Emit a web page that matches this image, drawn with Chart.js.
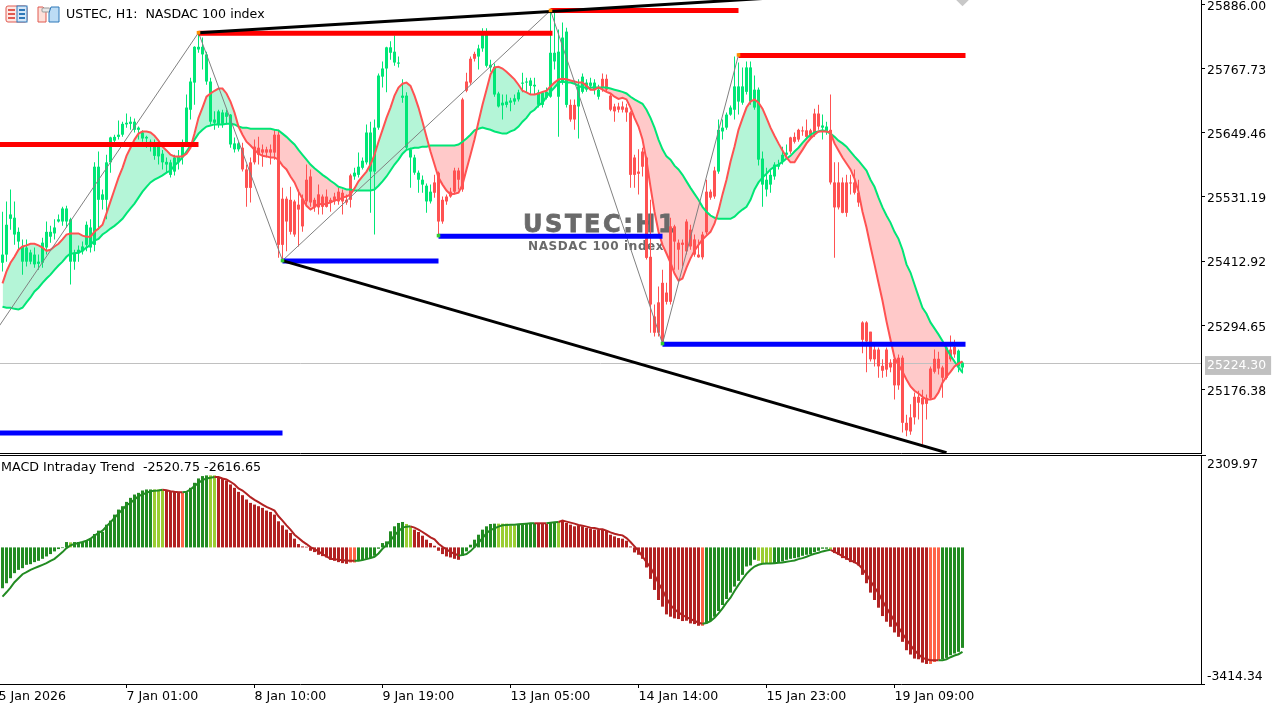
<!DOCTYPE html>
<html><head><meta charset="utf-8">
<script src="https://cdn.jsdelivr.net/npm/chart.js@4"></script>
<style>
html,body{margin:0;padding:0;background:#fff;width:1285px;height:706px;overflow:hidden}
canvas{position:absolute;left:0}
#main{top:0}#macd{top:455px}
#sep{position:absolute;left:0;top:455px;width:1206px;height:1px;background:#000}
#icons{position:absolute;left:5px;top:5px}
</style></head><body>
<canvas id="main" width="1285" height="454"></canvas>
<canvas id="macd" width="1285" height="251"></canvas>
<div id="sep"></div>
<svg id="icons" width="56" height="19" viewBox="0 0 56 19">
<rect x="1" y="1" width="21" height="16" rx="2" fill="#fde8e4" stroke="#e05a50"/><rect x="12" y="1" width="10" height="16" fill="#d4e6f7" stroke="#2f78b8"/>
<path d="M3 5h7M3 9h7M3 13h7" stroke="#e05a50" stroke-width="2"/><path d="M14 5h6M14 9h6M14 13h6" stroke="#2f78b8" stroke-width="2"/>
<path d="M33 2h5l3 3v12h-8z" fill="#fde0da" stroke="#e05a50"/><rect x="37" y="3" width="8" height="4" rx="1" fill="#e8e8e8" stroke="#999"/><path d="M46 2h8v15h-10V8z" fill="#bcdcf5" stroke="#2f78b8"/>
</svg>
<script>
const open=[
25410,25425,25491,25462,25449,25412,25412,25412,25407,25408,
25410,25438,25458,25464,25486,25486,25486,25412,25412,25427,
25431,25443,25438,25443,25526,25526,25526,25595,25635,25642,
25646,25665,25666,25655,25655,25639,25639,25624,25607,25606,
25595,25591,25572,25578,25595,25606,25631,25692,25742,25803,
25794,25744,25670,25668,25665,25666,25679,25628,25619,25619,
25622,25582,25595,25624,25622,25619,25619,25619,25646,25646,
25528,25528,25526,25523,25517,25528,25563,25569,25526,25536,
25532,25532,25526,25532,25541,25539,25526,25571,25569,25572,
25585,25595,25578,25578,25659,25753,25768,25797,25779,25777,
25714,25622,25604,25576,25563,25554,25523,25523,25558,25576,
25526,25532,25541,25580,25580,25711,25744,25786,25795,25790,
25805,25773,25770,25720,25698,25700,25701,25705,25707,25711,
25740,25742,25736,25735,25701,25701,25714,25716,25781,25716,
25742,25701,25701,25701,25698,25725,25729,25736,25729,25716,
25749,25749,25718,25698,25698,25698,25696,25687,25604,25578,
25615,25604,25421,25311,25337,25373,25355,25477,25477,25447,
25447,25486,25471,25453,25425,25462,25541,25541,25580,25578,
25652,25659,25683,25692,25707,25705,25725,25707,25696,25600,
25554,25545,25554,25569,25587,25596,25609,25641,25642,25655,
25654,25654,25654,25685,25685,25659,25652,25655,25558,25558,
25558,25558,25558,25558,25539,25300,25300,25283,25250,25250,
25220,25250,25226,25233,25235,25235,25115,25125,25163,25163,
25161,25161,25215,25233,25233,25217,25254,25250,25255,25219,
25217];
const high=[
25504,25523,25545,25523,25475,25453,25453,25434,25438,25425,
25456,25486,25478,25490,25499,25513,25515,25493,25434,25442,
25449,25486,25490,25595,25615,25545,25609,25642,25646,25672,
25670,25685,25679,25676,25661,25654,25644,25637,25637,25631,
25618,25604,25600,25609,25618,25637,25720,25751,25809,25834,
25825,25799,25751,25689,25692,25692,25692,25684,25641,25633,
25631,25591,25604,25637,25642,25628,25624,25628,25655,25655,
25548,25532,25550,25526,25545,25536,25591,25582,25530,25554,
25536,25545,25530,25539,25548,25545,25536,25574,25585,25613,
25604,25665,25670,25674,25759,25781,25808,25818,25829,25790,
25748,25724,25622,25609,25580,25571,25556,25554,25572,25578,
25532,25536,25548,25585,25585,25714,25760,25790,25799,25812,
25842,25842,25784,25777,25725,25720,25720,25714,25720,25729,
25760,25751,25751,25751,25729,25725,25733,25875,25873,25840,
25853,25843,25711,25711,25748,25759,25748,25751,25748,25738,
25759,25757,25722,25703,25705,25707,25703,25689,25609,25619,
25622,25606,25526,25333,25366,25397,25373,25493,25480,25453,
25453,25490,25480,25462,25453,25467,25563,25545,25587,25674,
25674,25687,25700,25790,25779,25770,25781,25781,25755,25733,
25615,25585,25582,25595,25600,25624,25628,25642,25650,25657,
25661,25674,25657,25694,25701,25683,25670,25720,25595,25595,
25567,25572,25572,25582,25563,25302,25302,25283,25259,25254,
25232,25254,25232,25237,25241,25239,25130,25149,25171,25174,
25176,25167,25219,25250,25246,25220,25259,25276,25268,25250,
25228];
const low=[
25394,25412,25471,25443,25434,25388,25403,25407,25401,25397,
25401,25425,25447,25453,25484,25478,25475,25370,25397,25412,
25425,25431,25429,25431,25471,25508,25490,25576,25628,25637,
25642,25659,25655,25650,25637,25633,25622,25615,25600,25591,
25582,25576,25567,25571,25582,25591,25628,25674,25701,25797,
25766,25738,25665,25655,25659,25659,25665,25622,25613,25615,
25578,25513,25521,25591,25591,25587,25604,25591,25600,25419,
25414,25431,25462,25458,25440,25467,25517,25513,25504,25499,
25499,25512,25504,25517,25517,25499,25517,25512,25563,25567,
25582,25591,25502,25462,25655,25733,25724,25784,25773,25770,
25705,25619,25548,25572,25539,25539,25502,25519,25530,25460,
25482,25517,25530,25536,25545,25541,25724,25738,25781,25766,
25799,25770,25762,25716,25696,25674,25696,25689,25701,25707,
25724,25724,25720,25720,25696,25696,25711,25714,25766,25642,
25738,25696,25670,25655,25639,25722,25725,25729,25720,25711,
25725,25725,25689,25670,25687,25687,25670,25548,25548,25536,
25569,25416,25281,25274,25274,25261,25333,25333,25397,25397,
25403,25425,25434,25421,25419,25416,25462,25526,25528,25574,
25637,25655,25681,25674,25683,25701,25720,25701,25692,25589,
25513,25532,25539,25563,25582,25591,25606,25611,25630,25633,
25644,25637,25637,25642,25655,25637,25646,25554,25419,25508,
25501,25495,25536,25536,25513,25243,25208,25228,25219,25198,
25198,25200,25208,25158,25176,25097,25090,25093,25112,25121,
25075,25121,25158,25206,25204,25161,25195,25228,25235,25208,
25206];
const close=[
25425,25480,25499,25493,25467,25440,25438,25429,25425,25412,
25447,25467,25467,25475,25490,25510,25510,25490,25429,25434,
25440,25480,25475,25587,25587,25536,25595,25641,25642,25646,
25666,25668,25670,25670,25659,25650,25642,25633,25631,25624,
25611,25596,25595,25604,25606,25624,25696,25744,25808,25808,
25808,25794,25744,25674,25689,25687,25687,25683,25630,25630,
25582,25548,25548,25595,25609,25613,25613,25613,25613,25443,
25443,25486,25467,25462,25508,25477,25523,25521,25512,25512,
25513,25513,25521,25523,25523,25523,25521,25526,25576,25587,
25598,25650,25650,25659,25755,25768,25807,25807,25799,25779,
25718,25718,25619,25604,25576,25563,25552,25541,25539,25486,
25486,25523,25532,25541,25563,25545,25727,25742,25786,25805,
25830,25832,25775,25771,25722,25705,25707,25709,25713,25724,
25742,25744,25746,25738,25724,25724,25725,25797,25797,25799,
25825,25836,25674,25674,25735,25753,25742,25742,25742,25729,
25733,25729,25692,25689,25692,25692,25687,25572,25572,25574,
25587,25419,25333,25281,25281,25265,25338,25338,25449,25434,
25443,25431,25440,25425,25420,25420,25466,25530,25532,25655,
25659,25683,25696,25735,25735,25735,25770,25770,25729,25729,
25602,25563,25572,25591,25591,25609,25613,25615,25633,25637,
25652,25642,25641,25646,25661,25663,25661,25558,25512,25512,
25502,25502,25556,25539,25521,25268,25265,25232,25232,25219,
25211,25213,25217,25184,25184,25115,25101,25099,25125,25152,
25149,25150,25161,25209,25215,25198,25198,25232,25241,25248,
25226];
const fastLine=[
25372,25394,25410,25421,25434,25440,25442,25445,25445,25442,
25438,25432,25434,25440,25445,25453,25462,25464,25464,25464,
25460,25458,25458,25467,25473,25480,25501,25523,25545,25567,
25585,25607,25622,25637,25648,25652,25652,25650,25644,25635,
25624,25617,25609,25606,25606,25606,25611,25622,25648,25677,
25696,25716,25722,25727,25731,25731,25722,25707,25687,25661,
25646,25633,25626,25618,25611,25607,25606,25604,25604,25600,
25589,25582,25569,25558,25541,25528,25515,25508,25513,25519,
25517,25519,25521,25525,25526,25530,25532,25536,25547,25560,
25569,25578,25591,25609,25633,25655,25677,25696,25718,25733,
25740,25742,25736,25718,25696,25670,25642,25615,25591,25567,
25554,25543,25536,25537,25539,25554,25582,25609,25637,25670,
25701,25729,25757,25770,25771,25768,25762,25755,25748,25738,
25727,25724,25720,25720,25722,25725,25727,25735,25742,25748,
25749,25748,25746,25744,25742,25742,25736,25729,25729,25733,
25729,25725,25722,25716,25712,25714,25711,25696,25677,25661,
25637,25598,25550,25504,25467,25443,25427,25410,25390,25377,
25381,25401,25418,25432,25443,25453,25460,25467,25482,25506,
25536,25563,25596,25624,25655,25676,25696,25707,25711,25705,
25694,25677,25659,25644,25630,25617,25604,25595,25595,25607,
25618,25630,25639,25646,25652,25652,25652,25650,25630,25617,
25604,25593,25582,25565,25541,25504,25475,25440,25407,25373,
25340,25302,25268,25235,25222,25209,25195,25182,25174,25169,
25163,25158,25158,25160,25171,25189,25200,25209,25219,25224,25228];
const slowLine=[
25329,25327,25327,25325,25324,25327,25337,25346,25357,25364,
25373,25381,25388,25397,25405,25412,25421,25427,25427,25429,
25432,25438,25443,25451,25454,25462,25467,25473,25478,25484,
25491,25501,25510,25519,25530,25541,25550,25558,25563,25567,
25571,25576,25580,25589,25596,25604,25615,25626,25637,25648,
25655,25661,25663,25665,25665,25665,25666,25666,25665,25661,
25659,25659,25657,25657,25657,25657,25657,25657,25655,25654,
25648,25642,25635,25628,25618,25609,25600,25591,25584,25578,
25572,25567,25561,25556,25550,25548,25545,25545,25543,25543,
25543,25543,25543,25545,25552,25560,25569,25580,25591,25600,
25611,25618,25620,25622,25622,25624,25624,25626,25626,25626,
25626,25626,25626,25626,25628,25633,25639,25646,25654,25657,
25659,25657,25655,25652,25650,25648,25648,25652,25655,25661,
25670,25677,25687,25692,25700,25705,25716,25725,25733,25742,
25744,25742,25742,25740,25736,25733,25733,25733,25733,25733,
25733,25733,25731,25729,25727,25725,25722,25716,25711,25707,
25703,25692,25677,25659,25637,25619,25606,25600,25589,25582,
25572,25560,25548,25537,25526,25513,25504,25497,25493,25491,
25491,25491,25491,25495,25502,25508,25513,25526,25545,25558,
25567,25574,25582,25587,25591,25596,25602,25607,25615,25622,
25631,25639,25646,25650,25652,25654,25652,25648,25642,25635,
25630,25624,25615,25606,25598,25589,25580,25563,25550,25530,
25512,25497,25484,25467,25454,25434,25407,25392,25370,25348,
25327,25316,25300,25289,25278,25266,25252,25239,25228,25217,25208];
const macdHist=[
-1021,-896,-770,-644,-561,-519,-435,-419,-368,-335,
-285,-226,-167,-100,-42,-17,134,126,134,134,
134,184,218,335,419,385,569,670,820,946,
1030,1138,1239,1322,1364,1423,1448,1448,1448,1448,
1448,1423,1406,1406,1389,1364,1381,1490,1615,1724,
1783,1800,1800,1800,1758,1724,1674,1574,1490,1389,
1306,1197,1113,1071,1030,988,921,887,820,653,
552,444,360,218,84,25,17,-84,-117,-184,
-218,-251,-310,-335,-368,-393,-410,-377,-377,-335,
-318,-285,-268,-209,-33,109,151,402,527,611,
636,586,527,444,385,293,193,109,42,-84,
-167,-226,-251,-285,-310,-209,-100,67,193,318,
444,527,586,594,594,594,594,552,552,569,
586,611,611,611,586,586,586,611,611,636,
670,611,569,527,552,527,485,469,444,444,
444,419,318,276,234,218,167,25,-126,-184,
-285,-502,-787,-1063,-1314,-1481,-1674,-1733,-1774,-1791,
-1841,-1833,-1900,-1917,-1959,-1959,-1900,-1841,-1733,-1590,
-1440,-1289,-1130,-979,-837,-686,-477,-452,-310,-335,
-393,-410,-410,-393,-368,-352,-310,-285,-268,-251,
-209,-184,-167,-117,-84,-33,-33,-50,-142,-184,
-268,-310,-368,-393,-452,-686,-896,-1130,-1314,-1507,
-1716,-1858,-1984,-2126,-2235,-2360,-2570,-2678,-2779,-2796,
-2879,-2913,-2913,-2863,-2821,-2796,-2762,-2695,-2653,-2611,
-2511];
const macdSignal=[
-1230,-1122,-1004,-870,-770,-670,-619,-561,-519,-477,
-435,-393,-335,-285,-201,-117,-17,50,84,109,
134,167,218,293,360,419,527,628,737,845,
946,1055,1113,1197,1281,1322,1364,1406,1415,1423,
1440,1431,1406,1389,1381,1381,1389,1448,1532,1615,
1682,1724,1741,1758,1758,1724,1699,1641,1574,1473,
1423,1339,1256,1189,1130,1071,1013,971,921,778,
670,552,444,318,234,151,84,8,-42,-100,
-167,-226,-285,-293,-310,-318,-326,-335,-335,-335,
-318,-293,-268,-234,-151,-33,59,176,301,402,
494,519,527,494,444,385,318,251,201,92,
17,-50,-109,-159,-201,-193,-167,-92,8,117,
234,352,435,477,519,552,561,569,569,578,
586,594,603,603,603,603,603,619,628,636,
670,644,619,594,561,544,519,494,485,460,
452,419,377,343,318,301,234,134,25,-84,
-226,-368,-502,-686,-896,-1063,-1272,-1440,-1548,-1624,
-1691,-1741,-1791,-1833,-1883,-1908,-1892,-1841,-1758,-1649,
-1523,-1381,-1256,-1088,-937,-795,-661,-561,-477,-435,
-410,-402,-402,-393,-385,-377,-360,-343,-326,-293,
-268,-234,-193,-159,-134,-100,-75,-59,-109,-159,
-218,-268,-326,-368,-427,-536,-670,-837,-996,-1147,
-1331,-1507,-1674,-1841,-2000,-2151,-2302,-2444,-2570,-2670,
-2762,-2796,-2821,-2821,-2821,-2821,-2796,-2745,-2703,-2670,
-2611];
const histStateRuns=[['G',17],['Y',1],['G',20],['Y',3],['R',4],['T',1],['G',6],['Y',2],['R',33],['T',2],['G',12],['Y',2],['R',12],['G',9],['Y',5],['G',5],['R',3],['G',2],['Y',1],['R',35],['T',1],['G',13],['Y',4],['G',14],['Y',1],['R',24],['T',3],['G',6]];
const priceTicks=[25886.00,25767.73,25649.46,25531.19,25412.92,25294.65,25176.38];
const lastPrice=25224.30;
const timeTickBars=[-1,31,63,95,127,159,191,223];
const timeTickLabels=['5 Jan 2026','7 Jan 01:00','8 Jan 10:00','9 Jan 19:00','13 Jan 05:00','14 Jan 14:00','15 Jan 23:00','19 Jan 09:00'];
const zigzagBars=[-5,49,70,137,165,184];
const zigzagPrices=[25248,25834,25414,25875,25261,25793];
const resistanceLevels=[[-1,49,25628],[49,137.5,25833],[137,184,25875],[184,240.75,25792]];
const supportLevels=[[-1,70,25096],[70,109,25413],[109,165,25459],[165,240.75,25260]];
const upperTrendBars=[49,137,190];
const upperTrendPrices=[25834,25873,25897];
const lowerTrendBars=[70,236];
const lowerTrendPrices=[25414,25060];
const highPivots=[[49,25834],[137,25875],[184,25793]];
const lowPivots=[[70,25414],[109,25460],[165,25261]];
const markerBars=[240];
const markerPrices=[25901];
const macdTop=2309.97, macdBottom=-3414.34;
const macdTickValues=[2309.97,2109,-3188,-3414.34];
const macdTickText=['','2309.97','-3414.34',''];

if([open,high,low,close,fastLine,slowLine,macdHist,macdSignal].some(a=>a.length!==241)) console.error('length',[open,high,low,close,fastLine,slowLine,macdHist,macdSignal].map(a=>a.length));

const UP='#00e676',DOWN='#ff5252';
const STATE={G:'#228b22',Y:'#9acd32',R:'#b22222',T:'#ff6347'};
const histStates=histStateRuns.flatMap(([s,n])=>Array(n).fill(s));
const FONT={family:'"DejaVu Sans"',size:12.4};
const XFONT={family:'"DejaVu Sans"',size:12.6};
const XMIN=-0.625,XMAX=299.625;
const idx=a=>a.map((v,i)=>({x:i,y:v}));
const zip=(xs,ys)=>xs.map((x,i)=>({x,y:ys[i]}));
const candleColor=open.map((o,i)=>close[i]<o?DOWN:UP);
const xAxisBase={type:'linear',min:XMIN,max:XMAX,offset:false};
const fixY=s=>{s.width=84;s.paddingTop=0;s.paddingBottom=0};

const labelsPlugin={id:'labelsPlugin',
 beforeDatasetsDraw(c){const g=c.ctx;g.save();
  g.fillStyle='#6a6a6a';g.strokeStyle='#6a6a6a';g.lineWidth=0.8;g.textBaseline='middle';g.textAlign='left';
  g.font='bold 24px "DejaVu Sans"';g.letterSpacing='2.6px';g.fillText('USTEC:H1',523,226);g.strokeText('USTEC:H1',523,226);
  g.font='bold 12px "DejaVu Sans"';g.letterSpacing='0.6px';g.fillText('NASDAC 100 index',528,246.5);
  g.letterSpacing='0px';g.restore();},
 afterDatasetsDraw(c){const g=c.ctx;g.save();
  g.fillStyle='#000';g.textBaseline='middle';g.textAlign='left';g.font='12.6px "DejaVu Sans"';
  g.fillText('USTEC, H1:  NASDAC 100 index',66,15);g.restore();}};
const macdLabelPlugin={id:'macdLabelPlugin',
 afterDatasetsDraw(c){const g=c.ctx;g.save();
  g.fillStyle='#000';g.textBaseline='middle';g.textAlign='left';g.font='12.7px "DejaVu Sans"';
  g.fillText('MACD Intraday Trend  -2520.75 -2616.65',1,13);g.restore();}};

const levelDs=(lv,color)=>lv.map(([a,b,p])=>({type:'line',data:[{x:a,y:p},{x:b,y:p}],borderColor:color,borderWidth:5,pointRadius:0,order:2}));
const mainDatasets=[
 {type:'line',label:'slow',data:idx(slowLine),borderColor:UP,borderWidth:2,pointRadius:0,fill:false,order:5},
 {type:'line',label:'fast',data:idx(fastLine),borderColor:DOWN,borderWidth:2,pointRadius:0,order:4,
  fill:{target:0,above:'#b4f5d7',below:'#ffc9c9'}},
 {type:'bar',label:'wick',data:high.map((h,i)=>({x:i,y:[low[i],h]})),backgroundColor:candleColor,barThickness:1,grouped:false,inflateAmount:0,order:7},
 {type:'bar',label:'body',data:open.map((o,i)=>({x:i,y:[o,close[i]]})),backgroundColor:candleColor,barThickness:3,grouped:false,inflateAmount:0,order:6},
 {type:'line',label:'last',data:[{x:XMIN,y:lastPrice},{x:XMAX,y:lastPrice}],borderColor:'#c0c0c0',borderWidth:1,pointRadius:0,order:8},
 {type:'line',label:'zigzag',data:zip(zigzagBars,zigzagPrices),borderColor:'#808080',borderWidth:1,pointRadius:0,order:3},
 ...levelDs(resistanceLevels,'#ff0000'),...levelDs(supportLevels,'#0000ff'),
 {type:'line',label:'up',data:zip(upperTrendBars,upperTrendPrices),borderColor:'#000',borderWidth:3,pointRadius:0,order:1},
 {type:'line',label:'down',data:zip(lowerTrendBars,lowerTrendPrices),borderColor:'#000',borderWidth:3,pointRadius:0,order:1},
 {type:'scatter',data:highPivots.map(([x,y])=>({x,y})),backgroundColor:'#ff8c00',pointStyle:'rect',pointRadius:2.5,borderWidth:0,order:0},
 {type:'scatter',data:lowPivots.map(([x,y])=>({x,y})),backgroundColor:'#32cd32',pointStyle:'rect',pointRadius:2.5,borderWidth:0,order:0},
 {type:'scatter',data:zip(markerBars,markerPrices),backgroundColor:'#c8c8c8',pointStyle:'rectRot',pointRadius:10,borderWidth:0,order:9},
];
new Chart(document.getElementById('main'),{type:'bar',data:{datasets:mainDatasets},plugins:[labelsPlugin],options:{
 responsive:false,animation:false,events:[],
 layout:{padding:0,autoPadding:false},
 plugins:{legend:{display:false},tooltip:{enabled:false},filler:{drawTime:'beforeDatasetsDraw',propagate:false}},
 scales:{
  x:{...xAxisBase,position:'bottom',grid:{display:false,offset:false,drawTicks:false},border:{display:true,color:'#000',width:1},ticks:{display:false},afterFit(s){s.height=1;s.paddingLeft=0;s.paddingRight=0}},
  y:{position:'right',min:25059.35,max:25894.25,
   afterBuildTicks(s){s.ticks=[...priceTicks,lastPrice].map(v=>({value:v}))},
   afterFit:fixY,
   border:{display:true,color:'#000',width:1},
   grid:{drawOnChartArea:false,drawTicks:true,tickLength:4,tickColor:c=>c.tick&&c.tick.value===lastPrice?'transparent':'#000'},
   ticks:{font:FONT,padding:2,labelOffset:2,autoSkip:false,maxRotation:0,callback:v=>v.toFixed(2),
    color:c=>c.tick&&c.tick.value===lastPrice?'#fff':'#000',
    showLabelBackdrop:c=>!!(c.tick&&c.tick.value===lastPrice),
    backdropColor:'#c0c0c0',backdropPadding:{left:2,right:5,top:2,bottom:2}}}
 }}});

new Chart(document.getElementById('macd'),{type:'bar',data:{datasets:[
 {type:'line',data:idx(macdSignal),borderColor:'#228b22',borderWidth:2,pointRadius:0,fill:false,order:1,
  segment:{borderColor:c=>'GY'.includes(histStates[c.p1DataIndex])?STATE.G:STATE.R}},
 {type:'bar',data:idx(macdHist),backgroundColor:histStates.map(s=>STATE[s]),barThickness:3,grouped:false,inflateAmount:0,order:2}
]},plugins:[macdLabelPlugin],options:{
 responsive:false,animation:false,events:[],layout:{padding:0,autoPadding:false},
 plugins:{legend:{display:false},tooltip:{enabled:false}},
 scales:{
  x:{...xAxisBase,position:'bottom',
   afterBuildTicks(s){s.ticks=timeTickBars.map(v=>({value:v}))},
   afterFit(s){s.height=22;s.paddingLeft=0;s.paddingRight=0},
   grid:{drawOnChartArea:false,offset:false,drawTicks:true,tickLength:4,tickColor:'#000'},
   border:{display:true,color:'#000',width:1},
   ticks:{font:XFONT,padding:1,autoSkip:false,maxRotation:0,minRotation:0,align:'start',color:'#000',callback:v=>timeTickLabels[timeTickBars.indexOf(v)]}},
  y:{position:'right',min:macdBottom,max:macdTop,
   afterBuildTicks(s){s.ticks=macdTickValues.map(v=>({value:v}))},
   afterFit:fixY,
   border:{display:true,color:'#000',width:1},
   grid:{drawOnChartArea:false,drawTicks:true,tickLength:4,tickColor:c=>c.tick&&(c.tick.value===macdTop||c.tick.value===macdBottom)?'#000':'transparent'},
   ticks:{font:FONT,padding:2,labelOffset:2,autoSkip:false,color:'#000',callback:v=>macdTickText[macdTickValues.indexOf(v)]}}
 }}});
</script>
</body></html>
